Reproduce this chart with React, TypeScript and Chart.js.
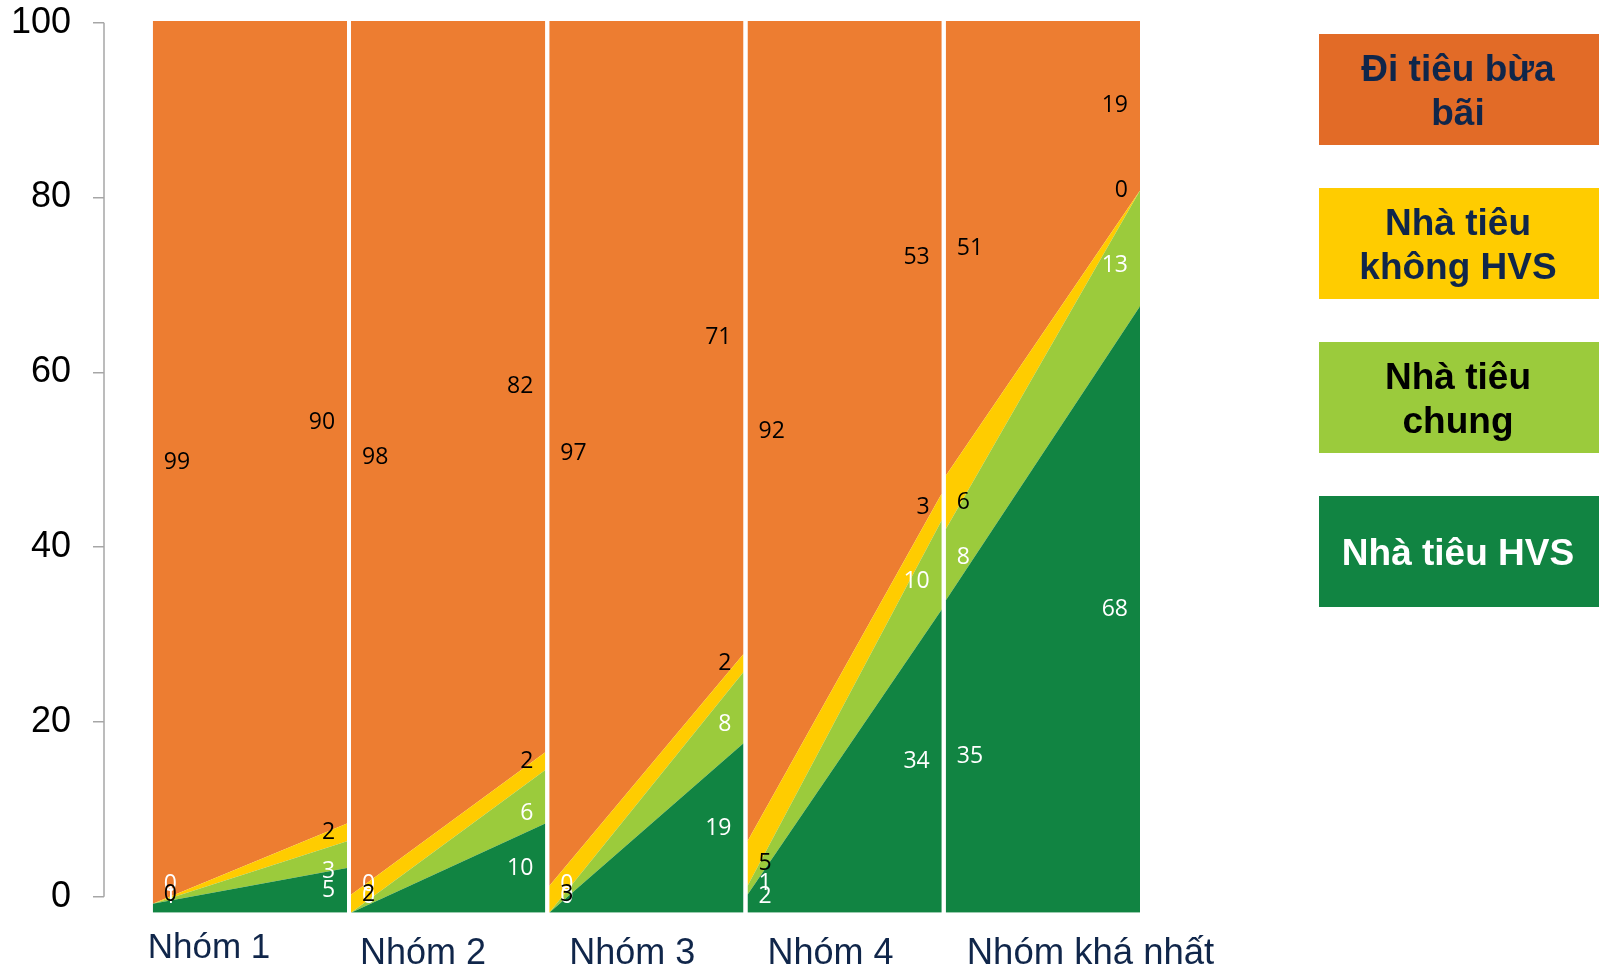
import React, { useEffect, useRef } from "react";
import { Chart, registerables } from "chart.js";

Chart.register(...registerables);

// ---- Data ----
const groups = ["Nhóm 1", "Nhóm 2", "Nhóm 3", "Nhóm 4", "Nhóm khá nhất"];
const seriesNames = ["Nhà tiêu HVS", "Nhà tiêu chung", "Nhà tiêu không HVS", "Đi tiêu bừa bãi"];

const hvsStart = [1, 0, 0, 2, 35];
const hvsEnd = [5, 10, 19, 34, 68];
const chungStart = [0, 0, 0, 1, 8];
const chungEnd = [3, 6, 8, 10, 13];
const khongStart = [0, 2, 3, 5, 6];
const khongEnd = [2, 2, 2, 3, 0];
const buaBaiStart = [99, 98, 97, 92, 51];
const buaBaiEnd = [90, 82, 71, 53, 19];

const yTicks = [0, 20, 40, 60, 80, 100];

// ---- Styles ----
const areaColors = ["#118442", "#9BCB3C", "#FFCC00", "#ED7D31"];
const legendBoxColors = ["#118442", "#9BCB3C", "#FFCC00", "#E26B27"];
const legendTextColors = ["#FFFFFF", "#000000", "#10264A", "#10264A"];
const labelColors = ["#FFFFFF", "#FFFFFF", "#000000", "#000000"];
const PANEL_W = 0.98;

const starts = [hvsStart, chungStart, khongStart, buaBaiStart];
const ends = [hvsEnd, chungEnd, khongEnd, buaBaiEnd];

const datasets: any[] = [];
groups.forEach((_, p) => {
  starts.forEach((_s, s) => {
    datasets.push({
      label: seriesNames[s],
      panel: p,
      seriesIndex: s,
      data: [
        { x: p, y: starts[s][p] },
        { x: p + PANEL_W, y: ends[s][p] },
      ],
      stack: "panel" + p,
      yAxisID: "y",
      xAxisID: "x",
      fill: s === 0 ? "origin" : "-1",
      backgroundColor: areaColors[s],
      borderWidth: 0,
      borderColor: areaColors[s],
      pointRadius: 0,
      tension: 0,
    });
  });
});

// label offsets in px: [start side, end side] per series
const labelOffsetStart = [0, -7, 0, 0];
const labelOffsetEnd = [0, 17, 0, 0];
const labelMaxFromBottom = [16, 28, 18, 0];

const bandLabels = {
  id: "bandLabels",
  afterDatasetsDraw(chart: any) {
    const ctx = chart.ctx;
    const yS = chart.scales.y;
    const bottom = chart.chartArea.bottom;
    ctx.save();
    ctx.font = '23px "Open Sans", "Noto Sans", sans-serif';
    ctx.textBaseline = "middle";
    chart.data.datasets.forEach((ds: any, di: number) => {
      const meta = chart.getDatasetMeta(di);
      const s = ds.seriesIndex;
      const p = ds.panel;
      [0, 1].forEach((side) => {
        const arrs = side ? ends : starts;
        let base = 0;
        for (let k = 0; k < s; k++) base += arrs[k][p];
        const v = arrs[s][p];
        let py = yS.getPixelForValue(base + v / 2) + (side ? labelOffsetEnd[s] : labelOffsetStart[s]);
        py = Math.min(py, bottom - labelMaxFromBottom[s]);
        const pt = meta.data[side];
        ctx.fillStyle = labelColors[s];
        if (side === 0) {
          ctx.textAlign = "left";
          ctx.fillText(String(v), pt.x + 11, py);
        } else {
          ctx.textAlign = "right";
          ctx.fillText(String(v), pt.x - 12, py);
        }
      });
    });
    ctx.restore();
  },
};

const decorations = {
  id: "decorations",
  afterDraw(chart: any) {
    const ctx = chart.ctx;
    const { left, right, bottom } = chart.chartArea;
    const yv = chart.scales.yv;
    const xS = chart.scales.x;
    ctx.save();
    // axis line
    ctx.strokeStyle = "#A6A6A6";
    ctx.lineWidth = 1.5;
    ctx.beginPath();
    ctx.moveTo(left, yv.getPixelForValue(0));
    ctx.lineTo(left, yv.getPixelForValue(100));
    ctx.stroke();

    // category labels
    const catOffsets = [-5, 9, 20, 20, 21];
    const catBase = [45.6, 51.6, 51.6, 51.6, 51.6];
    const catSize = [35, 36, 36, 36, 36.5];
    ctx.fillStyle = "#10264A";
    ctx.textAlign = "left";
    ctx.textBaseline = "alphabetic";
    groups.forEach((g, p) => {
      ctx.font = `${catSize[p]}px "Liberation Sans", Arial, sans-serif`;
      ctx.fillText(g, xS.getPixelForValue(p) + catOffsets[p], bottom + catBase[p]);
    });

    // legend boxes
    const order = [3, 2, 1, 0];
    const bx = right + 179;
    const bw = 282;
    const bh = 111;
    ctx.font = 'bold 37px "Liberation Sans", Arial, sans-serif';
    ctx.textAlign = "center";
    ctx.textBaseline = "middle";
    order.forEach((s, i) => {
      const by = 34 + i * 154;
      ctx.fillStyle = legendBoxColors[s];
      ctx.fillRect(bx, by, bw, bh);
      // word wrap
      const words = seriesNames[s].split(" ");
      const lines: string[] = [];
      let cur = "";
      words.forEach((w) => {
        const test = cur ? cur + " " + w : w;
        if (ctx.measureText(test).width > 245 && cur) {
          lines.push(cur);
          cur = w;
        } else cur = test;
      });
      if (cur) lines.push(cur);
      const lh = 44;
      const cy = by + bh / 2 + 3;
      const cx = bx + 139;
      ctx.fillStyle = legendTextColors[s];
      lines.forEach((ln, li) => {
        ctx.fillText(ln, cx, cy + (li - (lines.length - 1) / 2) * lh);
      });
    });
    ctx.restore();
  },
};

export default function App() {
  const ref = useRef<HTMLCanvasElement | null>(null);
  useEffect(() => {
    if (!ref.current) return;
    const chart = new Chart(ref.current, {
      type: "line",
      data: { datasets },
      options: {
        animation: false,
        responsive: false,
        devicePixelRatio: 1,
        layout: { padding: { left: 0, right: 459, top: 21, bottom: 60.3 } },
        plugins: { legend: { display: false }, tooltip: { enabled: false }, filler: { propagate: false } },
        scales: {
          x: { type: "linear", display: false, min: -0.246, max: 4 + PANEL_W },
          y: { type: "linear", display: false, stacked: true, min: 0, max: 100 },
          yv: {
            type: "linear",
            position: "left",
            min: -1.83,
            max: 100.19,
            afterBuildTicks: (s: any) => {
              s.ticks = yTicks.map((v) => ({ value: v }));
            },
            afterFit: (s: any) => {
              s.width = 104;
              s.paddingTop = 0;
              s.paddingBottom = 0;
            },
            border: { display: false },
            grid: { drawOnChartArea: false, drawTicks: true, tickLength: 11, color: "#A6A6A6", lineWidth: 1.5 },
            ticks: {
              padding: 22,
              color: "#000000",
              font: { family: '"Liberation Sans", Arial, sans-serif', size: 36 },
            },
          },
        },
      } as any,
      plugins: [bandLabels, decorations],
    });
    return () => chart.destroy();
  }, []);
  return (
    <div style={{ position: "absolute", left: 0, top: 0, width: 1599, height: 973, background: "#fff" }}>
      <canvas ref={ref} width={1599} height={973} />
    </div>
  );
}
